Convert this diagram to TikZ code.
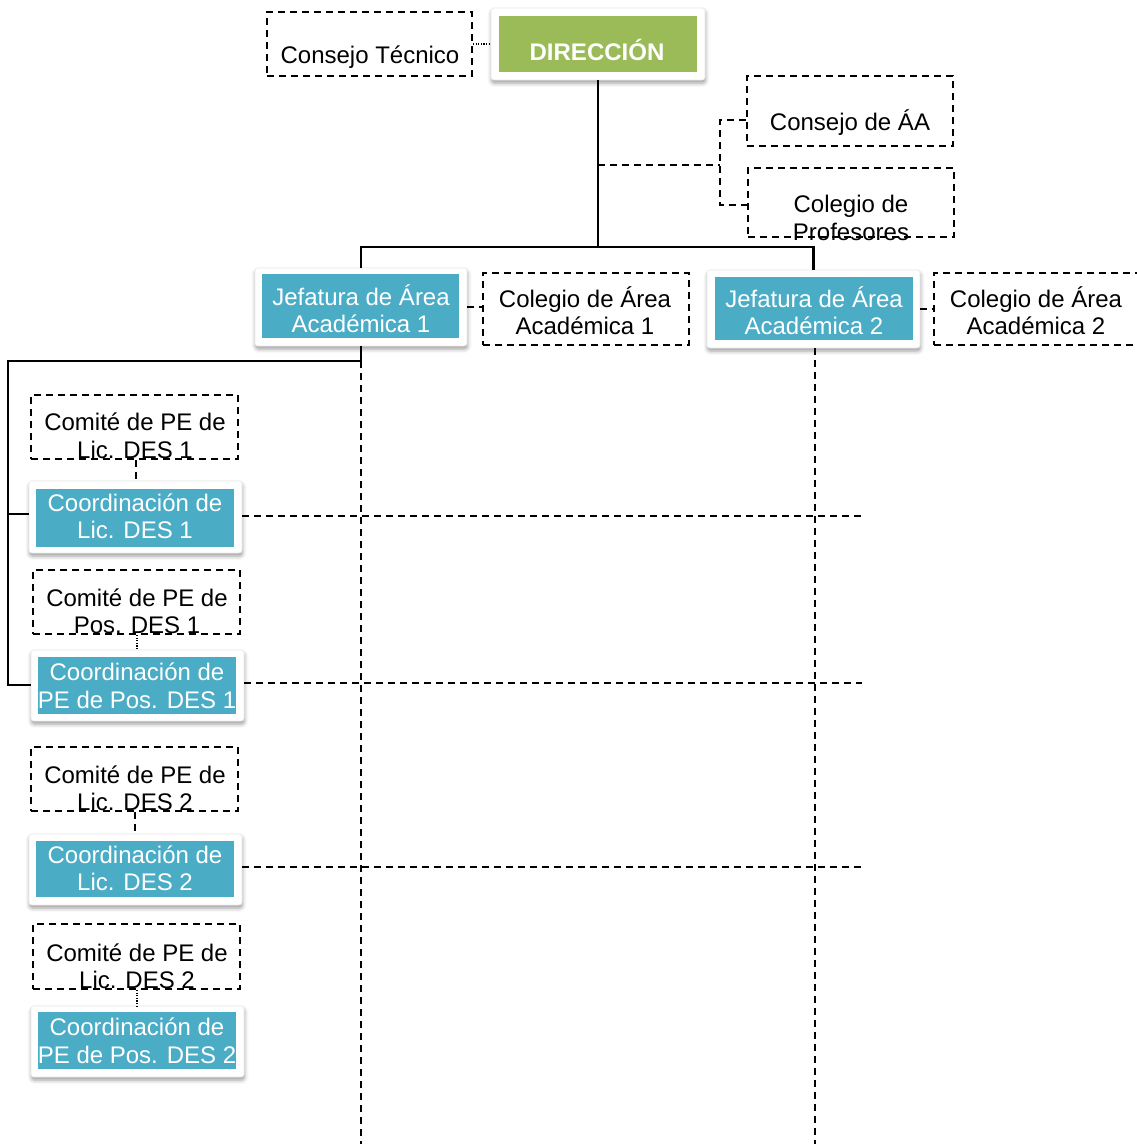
\documentclass[tikz,border=0pt]{standalone}
\usepackage{fontspec}
\setmainfont{Liberation Sans}
\usetikzlibrary{shadows.blur}
\definecolor{dirgreen}{RGB}{155,187,89}
\definecolor{areablue}{RGB}{75,172,198}

\tikzset{
  lbl/.style={anchor=base, inner sep=0pt, font=\fontsize{24}{28}\selectfont},
  wlbl/.style={lbl, text=white},
  dbox/.style={draw, line width=2.1pt, dash pattern=on 7pt off 5pt, inner sep=0pt},
  card/.style={fill=white, draw=black!8, line width=0.6pt, rounded corners=3pt, inner sep=0pt,
    blur shadow={shadow xshift=0.5pt, shadow yshift=-3pt, shadow blur radius=4pt, shadow opacity=40}},
  fillbox/.style={inner sep=0pt, draw=none},
  solidline/.style={line width=2.2pt},
  dashline/.style={line width=2.1pt, dash pattern=on 7pt off 5pt},
  dotline/.style={line width=1.6pt, dash pattern=on 1.2pt off 1.4pt},
}

\begin{document}
\begin{tikzpicture}[x=1pt, y=-1pt]
\useasboundingbox (0,0) rectangle (1136,1144);

% ---- top level ----
\node[card, minimum width=214, minimum height=72] (dir) at (598,44) {};
\node[fillbox, fill=dirgreen, minimum width=198, minimum height=56] (dirin) at (598,44) {};
\node[wlbl, font=\fontsize{24}{28}\selectfont\bfseries] (dirt) at (597,60) {DIRECCIÓN};

\node[dbox, minimum width=205, minimum height=64] (ct) at (369.5,44) {};
\node[lbl] (ctt) at (370,63) {Consejo Técnico};

\node[dbox, minimum width=206, minimum height=70] (caa) at (850,111) {};
\node[lbl] (caat) at (850,130) {Consejo de ÁA};

\node[dbox, minimum width=206, minimum height=69] (cprof) at (851,202.5) {};
\node[lbl] (cproft1) at (851,212) {Colegio de};
\node[lbl] (cproft2) at (851,240) {Profesores};

% ---- academic areas ----
\node[card, minimum width=212, minimum height=78] (jef1) at (361,307) {};
\node[fillbox, fill=areablue, minimum width=197, minimum height=64] (jef1in) at (360.5,306) {};
\node[wlbl] (jef1t1) at (361,305) {Jefatura de Área};
\node[wlbl] (jef1t2) at (361,332) {Académica 1};

\node[dbox, minimum width=206, minimum height=72] (col1) at (586,309) {};
\node[lbl] (col1t1) at (585,307) {Colegio de Área};
\node[lbl] (col1t2) at (585,334) {Académica 1};

\node[card, minimum width=213, minimum height=78] (jef2) at (813.5,309) {};
\node[fillbox, fill=areablue, minimum width=198, minimum height=63] (jef2in) at (814,308.5) {};
\node[wlbl] (jef2t1) at (814,307) {Jefatura de Área};
\node[wlbl] (jef2t2) at (814,334) {Académica 2};

\node[dbox, minimum width=206, minimum height=72] (col2) at (1037,309) {};
\node[lbl] (col2t1) at (1036,307) {Colegio de Área};
\node[lbl] (col2t2) at (1036,334) {Académica 2};

% ---- left column ----
\node[dbox, minimum width=207, minimum height=64] (com1) at (134.5,427) {};
\node[lbl] (com1t1) at (135,430) {Comité de PE de};
\node[lbl] (com1t2) at (135,458) {Lic. DES 1};

\node[card, minimum width=213, minimum height=72] (cl1) at (135.5,517) {};
\node[fillbox, fill=areablue, minimum width=198, minimum height=58] (cl1in) at (135,518) {};
\node[wlbl] (cl1t1) at (135,511) {Coordinación de};
\node[wlbl] (cl1t2) at (135,538) {Lic. DES 1};

\node[dbox, minimum width=207, minimum height=64] (com2) at (136.5,602) {};
\node[lbl] (com2t1) at (137,606) {Comité de PE de};
\node[lbl] (com2t2) at (137,633) {Pos. DES 1};

\node[card, minimum width=213, minimum height=71] (cp1) at (137.5,685.5) {};
\node[fillbox, fill=areablue, minimum width=198, minimum height=57] (cp1in) at (137,685.5) {};
\node[wlbl] (cp1t1) at (137,680) {Coordinación de};
\node[wlbl] (cp1t2) at (137,708) {PE de Pos. DES 1};

\node[dbox, minimum width=207, minimum height=64] (com3) at (134.5,779) {};
\node[lbl] (com3t1) at (135,783) {Comité de PE de};
\node[lbl] (com3t2) at (135,810) {Lic. DES 2};

\node[card, minimum width=213, minimum height=71] (cl2) at (135.5,869.5) {};
\node[fillbox, fill=areablue, minimum width=198, minimum height=56] (cl2in) at (135,869) {};
\node[wlbl] (cl2t1) at (135,863) {Coordinación de};
\node[wlbl] (cl2t2) at (135,890) {Lic. DES 2};

\node[dbox, minimum width=207, minimum height=65] (com4) at (136.5,956.5) {};
\node[lbl] (com4t1) at (137,961) {Comité de PE de};
\node[lbl] (com4t2) at (137,988) {Lic. DES 2};

\node[card, minimum width=213, minimum height=71] (cp2) at (137.5,1041.5) {};
\node[fillbox, fill=areablue, minimum width=198, minimum height=57] (cp2in) at (137,1040.5) {};
\node[wlbl] (cp2t1) at (137,1035) {Coordinación de};
\node[wlbl] (cp2t2) at (137,1063) {PE de Pos. DES 2};

% ---- connectors ----
\coordinate (bus) at (598,247);
\coordinate (sj) at (598,165);
\coordinate (fork) at (720,165);
\coordinate (j1b) at (361,361);
\coordinate (lrail) at (8,685);
\coordinate (j1end) at (361,1144);
\coordinate (j2end) at (815,1144);

\draw[dotline] (ct.east) -- (dir.west);
\draw[solidline] (dir.south) -- (bus);
\draw[solidline] (jef1.north) |- (bus) -| (jef2.north);

\draw[dashline] (sj) -- (fork);
\draw[dashline] (caa.west |- 0,120) -| (fork) |- (cprof.west |- 0,205);

\draw[dashline] (jef1.east) -- (jef1.east -| col1.west);
\draw[dashline] (jef2.east) -- (jef2.east -| col2.west);

\draw[solidline] (jef1.south) -- (j1b) -| (lrail) -- (lrail -| cp1.west);
\draw[solidline] (8,514) -- (8,514 -| cl1.west);

\draw[dashline] (j1b) -- (j1end);
\draw[dashline] (jef2.south -| j2end) -- (j2end);

\draw[dashline] (cl1.east |- 0,516) -- (862,516);
\draw[dashline] (cp1.east |- 0,683) -- (862,683);
\draw[dashline] (cl2.east |- 0,867) -- (862,867);

\draw[dashline] (com1.south -| 136,0) -- (cl1.north -| 136,0);
\draw[dotline] (com2.south -| 137,0) -- (cp1.north -| 137,0);
\draw[dashline] (com3.south -| 135,0) -- (cl2.north -| 135,0);
\draw[dotline] (com4.south -| 137,0) -- (cp2.north -| 137,0);
\end{tikzpicture}
\end{document}
